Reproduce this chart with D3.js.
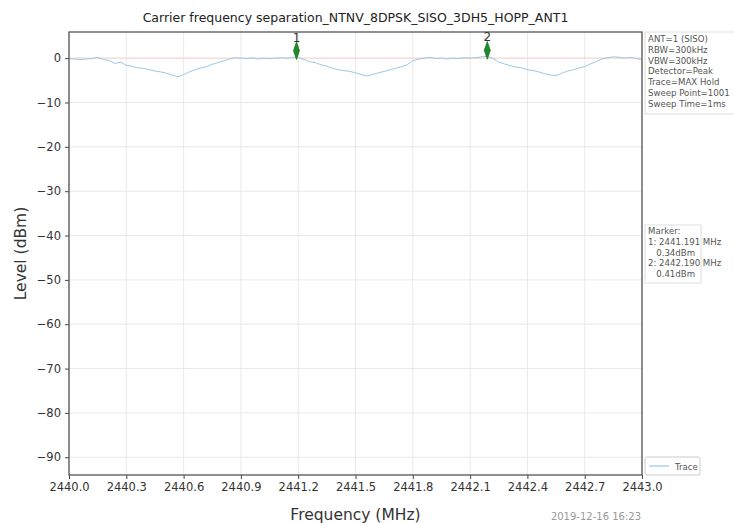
<!DOCTYPE html>
<html><head><meta charset="utf-8">
<script src="https://cdn.jsdelivr.net/npm/d3@7"></script>
<style>
body{margin:0;background:#fff;}
svg{display:block;font-family:"DejaVu Sans",sans-serif;}
</style></head><body>
<div id="chart"></div>
<script>
const titleText = "Carrier frequency separation_NTNV_8DPSK_SISO_3DH5_HOPP_ANT1";
const xTicks = [2440.0,2440.3,2440.6,2440.9,2441.2,2441.5,2441.8,2442.1,2442.4,2442.7,2443.0];
const yTicks = [0,-10,-20,-30,-40,-50,-60,-70,-80,-90];
const traceFreq = [
2440.00,2440.03,2440.06,2440.09,2440.12,2440.15,2440.18,2440.21,2440.24,2440.27,
2440.30,2440.33,2440.36,2440.39,2440.42,2440.45,2440.48,2440.51,2440.54,2440.57,
2440.60,2440.63,2440.66,2440.69,2440.72,2440.75,2440.78,2440.81,2440.84,2440.87,
2440.90,2440.93,2440.96,2440.99,2441.02,2441.05,2441.08,2441.11,2441.14,2441.17,
2441.20,2441.23,2441.26,2441.29,2441.32,2441.35,2441.38,2441.41,2441.44,2441.47,
2441.50,2441.53,2441.56,2441.59,2441.62,2441.65,2441.68,2441.71,2441.74,2441.77,
2441.80,2441.83,2441.86,2441.89,2441.92,2441.95,2441.98,2442.01,2442.04,2442.07,
2442.10,2442.13,2442.16,2442.19,2442.22,2442.25,2442.28,2442.31,2442.34,2442.37,
2442.40,2442.43,2442.46,2442.49,2442.52,2442.55,2442.58,2442.61,2442.64,2442.67,
2442.70,2442.73,2442.76,2442.79,2442.82,2442.85,2442.88,2442.91,2442.94,2442.97,
2443.00];
const traceLevel = [
-0.1,-0.2,-0.3,-0.2,-0.1,0.2,-0.3,-0.5,-1.2,-0.9,
-1.6,-1.8,-2.2,-2.3,-2.6,-2.9,-3.1,-3.4,-3.8,-4.2,
-3.7,-3.1,-2.6,-2.2,-1.9,-1.4,-1.0,-0.6,-0.2,0.1,
0.0,-0.1,0.1,-0.2,0.0,-0.1,0.0,0.1,0.0,0.2,
0.2,-0.3,-0.8,-1.0,-1.5,-1.8,-2.3,-2.6,-2.8,-3.0,
-3.3,-3.7,-4.0,-3.7,-3.3,-3.0,-2.6,-2.3,-1.9,-1.5,
-0.6,-0.2,0.0,0.2,-0.1,0.0,-0.2,0.0,-0.1,0.1,
0.0,0.1,0.3,0.4,-0.1,-0.9,-1.3,-1.7,-2.0,-2.2,
-2.6,-2.8,-3.1,-3.5,-3.8,-3.9,-3.4,-2.9,-2.6,-2.2,
-1.9,-1.3,-0.8,-0.2,0.1,0.3,0.2,0.0,0.2,-0.1,
-0.3];
const markerFreq = [2441.191, 2442.190];
const markerLevel = [0.34, 0.41];
const markerNames = ["1","2"];
const refLevel = 0;
const infoLines = ["ANT=1 (SISO)","RBW=300kHz","VBW=300kHz","Detector=Peak","Trace=MAX Hold","Sweep Point=1001","Sweep Time=1ms"];
const markerLines = ["Marker:","1: 2441.191 MHz","   0.34dBm","2: 2442.190 MHz","   0.41dBm"];
const legendLabel = "Trace";
const dateText = "2019-12-16 16:23";

const W=734,H=523;
const m={l:69,r:642,t:32,b:475};
const svg=d3.select("#chart").append("svg").attr("width",W).attr("height",H);
const x=d3.scaleLinear().domain([2440,2443]).range([m.l,m.r]);
const y=d3.scaleLinear().domain([-94,5.9]).range([m.b,m.t]);

// grid
svg.append("g").selectAll("line").data(xTicks).join("line")
 .attr("x1",d=>x(d)).attr("x2",d=>x(d)).attr("y1",m.t).attr("y2",m.b)
 .attr("stroke","#e3e3e3").attr("stroke-width",0.8);
svg.append("g").selectAll("line").data(yTicks).join("line")
 .attr("x1",m.l).attr("x2",m.r).attr("y1",d=>y(d)).attr("y2",d=>y(d))
 .attr("stroke","#e3e3e3").attr("stroke-width",0.8);

// reference line
svg.append("line").attr("x1",m.l).attr("x2",m.r).attr("y1",y(refLevel)).attr("y2",y(refLevel))
 .attr("stroke","#f7d6cc").attr("stroke-width",1);

// trace
const data=traceFreq.map((f,i)=>[f,traceLevel[i]]);
svg.append("path").datum(data)
 .attr("d",d3.line().x(d=>x(d[0])).y(d=>y(d[1])))
 .attr("fill","none").attr("stroke","#9cc7ea").attr("stroke-width",1);

// axes
const xa=svg.append("g").attr("transform",`translate(0,${m.b})`)
 .call(d3.axisBottom(x).tickValues(xTicks).tickFormat(d3.format(".1f")).tickSize(4).tickPadding(4));
const ya=svg.append("g").attr("transform",`translate(${m.l},0)`)
 .call(d3.axisLeft(y).tickValues(yTicks).tickFormat(d=>d<0?"\u2212"+Math.abs(d):d).tickSize(4).tickPadding(4));
[xa,ya].forEach(a=>{a.select(".domain").remove();
 a.selectAll("text").attr("font-size",11.5).attr("fill","#333").attr("font-family","DejaVu Sans, sans-serif");
 a.selectAll(".tick line").attr("stroke","#444");});

// frame
svg.append("rect").attr("x",m.l).attr("y",m.t).attr("width",m.r-m.l).attr("height",m.b-m.t)
 .attr("fill","none").attr("stroke","#555").attr("stroke-width",1.3);

// markers
const mk=svg.append("g");
markerFreq.forEach((f,i)=>{
 const cx=x(f), cy=y(markerLevel[i])-6;
 mk.append("path").attr("d",d3.symbol(d3.symbolDiamond,50)())
  .attr("transform",`translate(${cx},${cy}) scale(0.8,1.35)`).attr("fill","#1f8a2a").attr("stroke","#156b1e").attr("stroke-width",0.6);
 mk.append("text").attr("x",cx).attr("y",cy-9).attr("text-anchor","middle")
  .attr("font-size",12).attr("fill","#333").text(markerNames[i]);
});

// title
svg.append("text").attr("x",(m.l+m.r)/2).attr("y",22).attr("text-anchor","middle")
 .attr("font-size",12.5).attr("fill","#222").text(titleText);
// axis labels
svg.append("text").attr("x",(m.l+m.r)/2).attr("y",520).attr("text-anchor","middle")
 .attr("font-size",15.5).attr("fill","#333").text("Frequency (MHz)");
svg.append("text").attr("transform",`translate(26,${(m.t+m.b)/2}) rotate(-90)`).attr("text-anchor","middle")
 .attr("font-size",15.5).attr("fill","#333").text("Level (dBm)");

// info box
const ib=svg.append("g");
ib.append("rect").attr("x",645).attr("y",32).attr("width",92).attr("height",82)
 .attr("fill","#fff").attr("stroke","#ddd");
ib.selectAll("text").data(infoLines).join("text")
 .attr("x",648).attr("y",(d,i)=>42+i*10.8).attr("font-size",8.6).attr("fill","#555").text(d=>d);

// marker box
const mb=svg.append("g");
mb.append("rect").attr("x",645).attr("y",225).attr("width",56).attr("height",58)
 .attr("fill","#fff").attr("stroke","#ddd");
mb.selectAll("text").data(markerLines).join("text")
 .attr("x",648).attr("y",(d,i)=>234+i*10.8).attr("font-size",8.6).attr("fill","#555")
 .attr("xml:space","preserve").style("white-space","pre").text(d=>d);

// legend
const lg=svg.append("g");
lg.append("rect").attr("x",645).attr("y",457).attr("width",55).attr("height",18).attr("rx",2)
 .attr("fill","#fff").attr("stroke","#ccc");
lg.append("line").attr("x1",649).attr("x2",669).attr("y1",466).attr("y2",466).attr("stroke","#9cc7ea").attr("stroke-width",1.2);
lg.append("text").attr("x",675).attr("y",469.5).attr("font-size",8.6).attr("fill","#555").text(legendLabel);

// date
svg.append("text").attr("x",641).attr("y",520).attr("text-anchor","end")
 .attr("font-size",10).attr("fill","#999").text(dateText);
</script>
</body></html>
